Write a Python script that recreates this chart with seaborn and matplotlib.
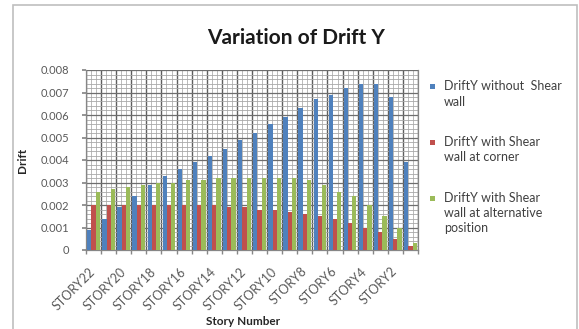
import matplotlib
matplotlib.use("Agg")
import matplotlib.pyplot as plt
from matplotlib.patches import Rectangle
from matplotlib.ticker import MultipleLocator, FixedLocator, FuncFormatter, NullFormatter
import numpy as np
import pandas as pd
import seaborn as sns

# Stories from top to bottom of the building
stories = ["STORY22", "STORY21", "STORY20", "STORY19", "STORY18", "STORY17",
           "STORY16", "STORY15", "STORY14", "STORY13", "STORY12", "STORY11",
           "STORY10", "STORY9", "STORY8", "STORY7", "STORY6", "STORY5",
           "STORY4", "STORY3", "STORY2", "STORY1"]

# Storey drift in Y direction for each model
drift_no_wall = [0.0009, 0.0014, 0.0019, 0.0024, 0.0029, 0.0033, 0.0036, 0.0039,
                 0.0042, 0.0045, 0.0049, 0.0052, 0.0056, 0.0059, 0.0063, 0.0067,
                 0.0069, 0.0072, 0.0074, 0.0074, 0.0068, 0.0039]
drift_corner = [0.0020, 0.0020, 0.0020, 0.0020, 0.0020, 0.0020, 0.0020, 0.0020,
                0.0020, 0.0019, 0.0019, 0.0018, 0.0018, 0.0017, 0.0016, 0.0015,
                0.0014, 0.0012, 0.0010, 0.0008, 0.0005, 0.0002]
drift_alt = [0.0026, 0.0027, 0.0028, 0.0029, 0.0030, 0.0030, 0.0031, 0.0031,
             0.0032, 0.0032, 0.0032, 0.0032, 0.0032, 0.0032, 0.0031, 0.0029,
             0.0026, 0.0024, 0.0020, 0.0015, 0.0010, 0.0003]

series_names = ["DriftY without  Shear\nwall",
                "DriftY with Shear\nwall at corner",
                "DriftY with Shear\nwall at alternative\nposition"]
colors = ["#4F81BD", "#C0504D", "#9BBB59"]

# Only every other story is labelled on the axis
shown_labels = ["STORY22", "STORY20", "STORY18", "STORY16", "STORY14", "STORY12",
                "STORY10", "STORY8", "STORY6", "STORY4", "STORY2"]

frames = []
for name, vals in zip(series_names, [drift_no_wall, drift_corner, drift_alt]):
    frames.append(pd.DataFrame({"story": stories, "drift": vals, "series": name}))
df = pd.concat(frames, ignore_index=True)

sns.set_theme(style="white")
plt.rcParams["font.family"] = ["Lato", "DejaVu Sans"]

W, H = 579, 329
fig = plt.figure(figsize=(W / 100, H / 100), dpi=100)
fig.patch.set_facecolor("white")

ax = fig.add_axes([86 / W, 1 - 250 / H, 332 / W, 180 / H])
sns.barplot(data=df, x="story", y="drift", hue="series", order=stories,
            hue_order=series_names, palette=colors, saturation=1,
            errorbar=None, width=0.84, legend=False, ax=ax, zorder=3,
            linewidth=0)

n = len(stories)
ax.set_xlim(-0.5, n - 0.5)
ax.set_ylim(0, 0.008)
ax.set_axisbelow(True)

# horizontal grid: major every 0.001, minor every 0.0002
ax.yaxis.set_major_locator(MultipleLocator(0.001))
ax.yaxis.set_minor_locator(MultipleLocator(0.0002))
ax.yaxis.set_major_formatter(FuncFormatter(lambda v, _: "0" if abs(v) < 1e-12 else f"{v:.3f}"))
ax.grid(which="major", axis="y", color="#6e6e6e", lw=0.9, zorder=0)
ax.grid(which="minor", axis="y", color="#a8a8a8", lw=0.6, zorder=0)

# vertical grid: dark at category boundaries, light within each category
bounds = np.arange(n + 1) - 0.5
ax.xaxis.set_minor_locator(FixedLocator(bounds))
ax.xaxis.set_minor_formatter(NullFormatter())
ax.grid(which="minor", axis="x", color="#5e5e5e", lw=1.0, zorder=0)
inner = np.concatenate([bounds[:-1] + 1 / 3, bounds[:-1] + 2 / 3])
ax.vlines(inner, 0, 1, transform=ax.get_xaxis_transform(), color="#b0b0b0", lw=0.6, zorder=0)

# category labels: every other story
ax.set_xticks(range(n))
ax.set_xticklabels([s if s in shown_labels else "" for s in stories])
for lbl in ax.get_xticklabels():
    lbl.set_rotation(45)
    lbl.set_ha("right")
    lbl.set_va("center")
    lbl.set_rotation_mode("anchor")

ax.tick_params(axis="x", which="major", length=0, pad=14, labelsize=9, labelcolor="#595959")
ax.tick_params(axis="x", which="minor", length=3, color="#868686", bottom=True)
ax.tick_params(axis="y", which="major", length=3, color="#868686", left=True,
               pad=9, labelsize=8, labelcolor="#595959")
ax.tick_params(axis="y", which="minor", length=0)

for side in ["left", "bottom", "top", "right"]:
    ax.spines[side].set_color("#868686")
    ax.spines[side].set_linewidth(0.9)
ax.spines["top"].set_visible(False)

ax.set_xlabel("Story Number", fontsize=8.5, fontweight="bold", color="#262626")
ax.xaxis.set_label_coords(0.473, -0.365)
ax.set_ylabel("Drift", fontsize=8.5, fontweight="bold", color="#262626")
ax.yaxis.set_label_coords(-0.175, 0.5)

fig.text(296 / W, 1 - 38 / H, "Variation of Drift Y", ha="center", va="center",
         fontsize=15, fontweight="bold", color="#1a1a1a")

# legend: a small square beside the first line of each wrapped label
legend_rows = [87, 142, 198]
for name, col, y in zip(series_names, colors, legend_rows):
    fig.add_artist(Rectangle((430 / W, 1 - (y + 2.5) / H), 5 / W, 5 / H,
                             transform=fig.transFigure, facecolor=col, edgecolor="none"))
    fig.text(444 / W, 1 - (y - 6.5) / H, name, ha="left", va="top", fontsize=9,
             color="#404040", linespacing=1.35)

# chart area border
fig.add_artist(Rectangle((13 / W, -0.02), (577 - 13) / W, 1.02 - 5 / H,
                         transform=fig.transFigure, fill=False,
                         edgecolor="#bfbfbf", lw=1.2))

fig.savefig("out.png", dpi=100)
